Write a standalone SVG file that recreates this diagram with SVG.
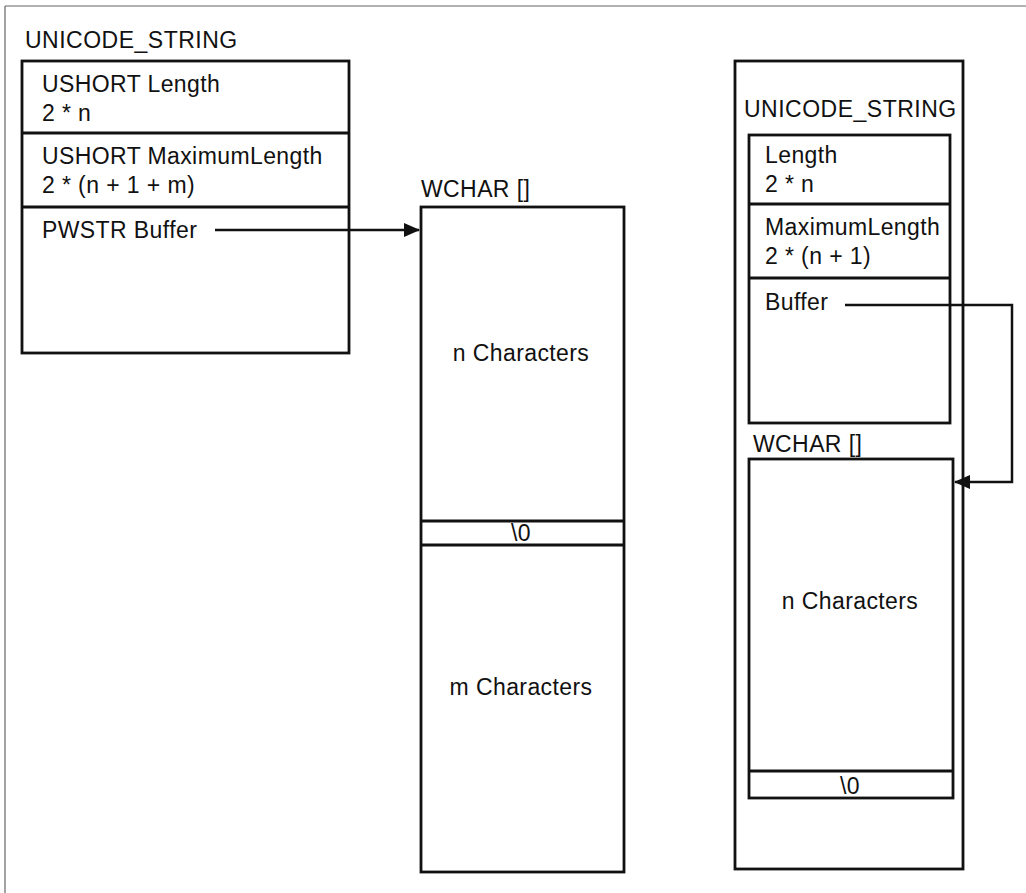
<svg xmlns="http://www.w3.org/2000/svg" width="1026" height="893" viewBox="0 0 1026 893">
<style>
.t{font-family:"Liberation Sans",Arial,sans-serif;font-size:23px;fill:#111;letter-spacing:0.4px}
.h{font-family:"Liberation Sans",Arial,sans-serif;font-size:23px;fill:#111;letter-spacing:0.5px}
.b{fill:none;stroke:#111;stroke-width:2.8}
.l{stroke:#111;stroke-width:2.8}
.c{fill:none;stroke:#111;stroke-width:2.5}
.f{stroke:#666;stroke-width:1.2}
</style>
<defs>
<marker id="ah2" markerWidth="16" markerHeight="14" refX="15" refY="7" orient="auto" markerUnits="userSpaceOnUse" viewBox="0 0 16 14">
<path d="M0,0 L16,7 L0,14 Z" fill="#111"/>
</marker>
</defs>
<g id="frame">
<line class="f" x1="5" y1="6" x2="1026" y2="6"/>
<line class="f" x1="5" y1="6" x2="5" y2="893"/>
</g>
<g id="left-struct">
<text class="h" x="25" y="48">UNICODE_STRING</text>
<rect class="b" x="22" y="61" width="327" height="292"/>
<line class="l" x1="22" y1="133" x2="349" y2="133"/>
<line class="l" x1="22" y1="207" x2="349" y2="207"/>
<text class="t" x="42" y="92">USHORT Length</text>
<text class="t" x="42" y="121">2 * n</text>
<text class="t" x="42" y="164">USHORT MaximumLength</text>
<text class="t" x="42" y="193">2 * (n + 1 + m)</text>
<text class="t" x="42" y="238">PWSTR Buffer</text>
</g>
<g id="left-wchar">
<text class="t" x="421" y="197">WCHAR []</text>
<rect class="b" x="421" y="207" width="203" height="665"/>
<line class="l" x1="421" y1="521" x2="624" y2="521"/>
<line class="l" x1="421" y1="545" x2="624" y2="545"/>
<text class="t" x="521" y="361" text-anchor="middle">n Characters</text>
<text class="t" x="521" y="541" text-anchor="middle">\0</text>
<text class="t" x="521" y="695" text-anchor="middle">m Characters</text>
</g>
<g id="right-container">
<rect class="b" x="735" y="61" width="228" height="808"/>
<text class="h" x="744" y="117">UNICODE_STRING</text>
</g>
<g id="right-struct">
<rect class="b" x="749" y="135" width="201" height="288"/>
<line class="l" x1="749" y1="204" x2="950" y2="204"/>
<line class="l" x1="749" y1="278" x2="950" y2="278"/>
<text class="t" x="765" y="163">Length</text>
<text class="t" x="765" y="192">2 * n</text>
<text class="t" x="765" y="235">MaximumLength</text>
<text class="t" x="765" y="264">2 * (n + 1)</text>
<text class="t" x="765" y="310">Buffer</text>
</g>
<g id="right-wchar">
<text class="t" x="753" y="452">WCHAR []</text>
<rect class="b" x="749" y="459" width="204" height="339"/>
<line class="l" x1="749" y1="771" x2="953" y2="771"/>
<text class="t" x="850" y="609" text-anchor="middle">n Characters</text>
<text class="t" x="850" y="794" text-anchor="middle">\0</text>
</g>
<g id="connectors">
<line class="c" x1="215" y1="230" x2="419" y2="230" marker-end="url(#ah2)"/>
<polyline class="c" points="845,305 1012,305 1012,482 955,482" marker-end="url(#ah2)"/>
</g>
</svg>
